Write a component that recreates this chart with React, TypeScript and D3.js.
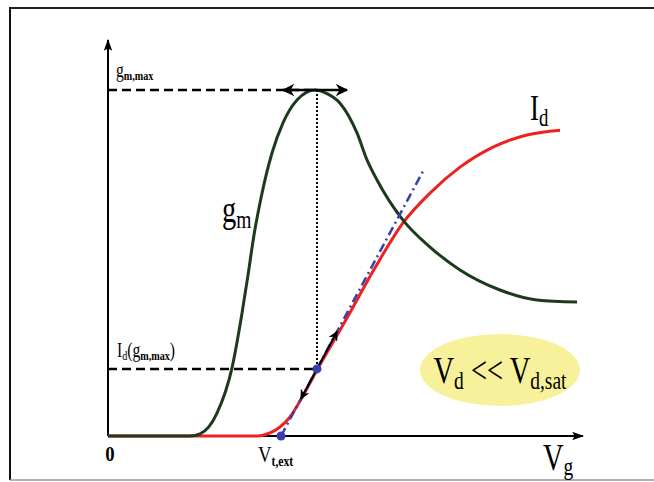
import React from "react";
import * as d3 from "d3";

const W = 654;
const H = 482;

// Transconductance g_m versus gate voltage (normalized to its maximum)
const gmVg = [0, 0.82, 0.92, 1.09, 1.24, 1.34, 1.40, 1.46, 1.53, 1.64, 1.75, 1.89, 2.07, 2.20, 2.32, 2.49, 2.59, 2.69, 2.95, 3.22, 3.52, 3.92, 4.29, 4.69];
const gmVal = [0, 0, 0.006, 0.066, 0.197, 0.355, 0.465, 0.581, 0.688, 0.818, 0.905, 0.971, 1.0, 0.988, 0.962, 0.876, 0.798, 0.74, 0.624, 0.546, 0.48, 0.422, 0.393, 0.387];

// Drain current I_d versus gate voltage (same normalized axis)
const idVg = [0, 1.49, 1.62, 1.72, 1.82, 1.92, 2.09, 2.39, 2.67, 2.95, 3.22, 3.52, 3.85, 4.19, 4.52];
const idVal = [0, 0, 0.009, 0.026, 0.055, 0.101, 0.191, 0.341, 0.486, 0.616, 0.702, 0.777, 0.835, 0.87, 0.884];

// Extraction construction
const vtExt = 1.73; // extrapolated threshold voltage
const vPeak = 2.09; // gate voltage at g_m,max
const gmMax = 1.0;
const idAtPeak = 0.194; // I_d(g_m,max)
const tangentEnd = 3.16;
const slideArrow = [1.93, 2.29]; // double arrow along the tangent
const peakArrow = [1.75, 2.39]; // double arrow at the g_m maximum

const x = d3.scaleLinear().domain([0, 4.75]).range([108, 583]);
const y = d3.scaleLinear().domain([0, 1]).range([436, 90]);

const tangent = (v: number) => (idAtPeak * (v - vtExt)) / (vPeak - vtExt);

const line = d3
  .line<[number, number]>()
  .x((d) => x(d[0]))
  .y((d) => y(d[1]))
  .curve(d3.curveMonotoneX);

const straight = d3
  .line<[number, number]>()
  .x((d) => x(d[0]))
  .y((d) => y(d[1]));

const gmPts = gmVg.map((v, i) => [v, gmVal[i]] as [number, number]);
const idPts = idVg.map((v, i) => [v, idVal[i]] as [number, number]);

const SERIF = "'Liberation Serif', 'Times New Roman', serif";

// Narrow, tall serif lettering
function Label({
  x0,
  y0,
  sx = 0.78,
  anchor = "start",
  size,
  weight,
  children,
}: {
  x0: number;
  y0: number;
  sx?: number;
  anchor?: string;
  size: number;
  weight?: string;
  children: React.ReactNode;
}) {
  return (
    <g transform={`translate(${x0},${y0}) scale(${sx},1)`}>
      <text x={0} y={0} fontSize={size} fontWeight={weight} textAnchor={anchor}>
        {children}
      </text>
    </g>
  );
}

export default function App() {
  return (
    <svg
      width={W}
      height={H}
      style={{ position: "absolute", left: 0, top: 0, background: "#fff" }}
      fontFamily={SERIF}
    >
      <defs>
        <marker id="ah" viewBox="0 0 10 10" refX="9" refY="5" markerWidth="5" markerHeight="5" orient="auto-start-reverse" markerUnits="strokeWidth">
          <path d="M0,0 L10,5 L0,10 L3,5 Z" fill="#000" />
        </marker>
        <marker id="axh" viewBox="0 0 10 10" refX="9" refY="5" markerWidth="6" markerHeight="6" orient="auto" markerUnits="strokeWidth">
          <path d="M0,1.5 L10,5 L0,8.5 L2,5 Z" fill="#000" />
        </marker>
      </defs>

      {/* frame */}
      <line x1={10} y1={8} x2={W} y2={8} stroke="#222" strokeWidth={2} />
      <line x1={10} y1={7} x2={10} y2={480} stroke="#111" strokeWidth={2} />
      <line x1={10} y1={480} x2={W} y2={480} stroke="#999" strokeWidth={1.5} />

      {/* axes */}
      <line x1={x(0)} y1={y(0)} x2={x(0)} y2={40} stroke="#000" strokeWidth={2} markerEnd="url(#axh)" />
      <line x1={x(0)} y1={y(0)} x2={583} y2={y(0)} stroke="#000" strokeWidth={2} markerEnd="url(#axh)" />

      {/* yellow condition bubble */}
      <ellipse cx={500} cy={370} rx={80} ry={36} fill="#f6f19a" />

      {/* guide lines */}
      <line x1={x(0)} y1={y(gmMax)} x2={x(vPeak)} y2={y(gmMax)} stroke="#000" strokeWidth={2.5} strokeDasharray="9 5" />
      <line x1={x(0)} y1={y(idAtPeak)} x2={x(vPeak)} y2={y(idAtPeak)} stroke="#000" strokeWidth={2.5} strokeDasharray="9 5" />
      <line x1={x(vPeak)} y1={y(gmMax)} x2={x(vPeak)} y2={y(idAtPeak)} stroke="#000" strokeWidth={2} strokeDasharray="2 2" />

      {/* curves */}
      <path d={line(idPts) ?? ""} fill="none" stroke="#ee2020" strokeWidth={3} />
      <path d={line(gmPts) ?? ""} fill="none" stroke="#1d3a1d" strokeWidth={3} />

      {/* tangent at the maximum slope */}
      <path
        d={straight([[vtExt, 0], [tangentEnd, tangent(tangentEnd)]]) ?? ""}
        fill="none"
        stroke="#3a40a8"
        strokeWidth={2.5}
        strokeDasharray="9 4 2 4"
      />
      <path
        d={straight([[slideArrow[0], tangent(slideArrow[0])], [slideArrow[1], tangent(slideArrow[1])]]) ?? ""}
        fill="none"
        stroke="#000"
        strokeWidth={2}
        markerStart="url(#ah)"
        markerEnd="url(#ah)"
      />
      <path
        d={straight([[peakArrow[0], gmMax], [peakArrow[1], gmMax]]) ?? ""}
        fill="none"
        stroke="#000"
        strokeWidth={2.5}
        markerStart="url(#ah)"
        markerEnd="url(#ah)"
      />
      <circle cx={x(vPeak)} cy={y(idAtPeak)} r={4.5} fill="#3a40a8" />
      <circle cx={x(vtExt)} cy={y(0)} r={4.5} fill="#3a40a8" />

      {/* labels */}
      <Label x0={116} y0={77} size={20} sx={0.78}>
        g<tspan fontSize={13} fontWeight="bold" dy={3}>m,max</tspan>
      </Label>
      <Label x0={117} y0={357} size={20} sx={0.78}>
        I<tspan fontSize={13} dy={3}>d</tspan>
        <tspan dy={-3}>(g</tspan>
        <tspan fontSize={13} fontWeight="bold" dy={3}>m,max</tspan>
        <tspan dy={-3}>)</tspan>
      </Label>
      <Label x0={110} y0={461} size={22} sx={0.85} weight="bold" anchor="middle">0</Label>
      <Label x0={258} y0={462} size={24} sx={0.78}>
        V<tspan fontSize={15} fontWeight="bold" dy={4}>t,ext</tspan>
      </Label>
      <Label x0={543} y0={470} size={38} sx={0.75}>
        V<tspan fontSize={26} dy={5}>g</tspan>
      </Label>
      <Label x0={530} y0={120} size={36} sx={0.75}>
        I<tspan fontSize={25} dy={6}>d</tspan>
      </Label>
      <Label x0={222} y0={222} size={38} sx={0.75}>
        g<tspan fontSize={26} dy={6}>m</tspan>
      </Label>
      <Label x0={500} y0={383} size={38} sx={0.75} anchor="middle">
        V<tspan fontSize={26} dy={6}>d</tspan>
        <tspan dy={-6}>{" << V"}</tspan>
        <tspan fontSize={26} dy={6}>d,sat</tspan>
      </Label>
    </svg>
  );
}
